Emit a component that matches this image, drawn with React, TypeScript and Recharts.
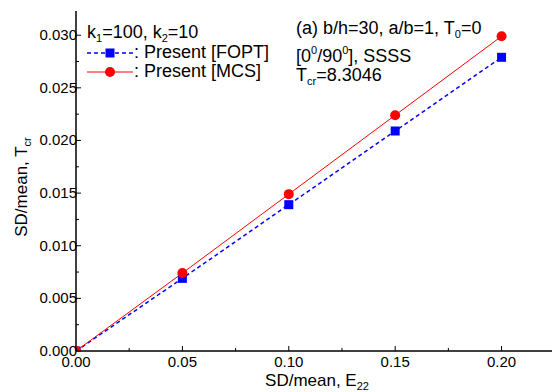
import React from 'react';
import { LineChart, Line, XAxis, YAxis } from 'recharts';

// SD/mean of E22 vs SD/mean of Tcr
const sdE22 = [0, 0.05, 0.1, 0.15, 0.2];
const foptValues = [0, 0.0069, 0.0139, 0.0209, 0.0279];
const mcsValues = [0, 0.0074, 0.0149, 0.0224, 0.0299];

const xTicks = [0, 0.025, 0.05, 0.075, 0.1, 0.125, 0.15, 0.175, 0.2];
const yTicks = [
  0, 0.0025, 0.005, 0.0075, 0.01, 0.0125, 0.015, 0.0175, 0.02, 0.0225, 0.025, 0.0275, 0.03,
];

const data = sdE22.map((x, i) => ({ x, fopt: foptValues[i], mcs: mcsValues[i] }));

const FONT = '"Liberation Sans", Arial, sans-serif';
const W = 552;
const H = 392;

const isMajor = (v: number, step: number) => Math.abs(v / step - Math.round(v / step)) < 1e-6;

const XTick = (props: any) => {
  const { x, y, payload } = props;
  const major = isMajor(payload.value, 0.05);
  return (
    <g>
      <line x1={x} x2={x} y1={y} y2={y - (major ? 5 : 3)} stroke="#000" strokeWidth={1} />
      {major && (
        <text x={x} y={y + 16} textAnchor="middle" fontSize={15} fontFamily={FONT} fill="#000">
          {payload.value.toFixed(2)}
        </text>
      )}
    </g>
  );
};

const YTick = (props: any) => {
  const { x, y, payload } = props;
  const major = isMajor(payload.value, 0.005);
  return (
    <g>
      <line x1={x} x2={x + (major ? 5 : 3)} y1={y} y2={y} stroke="#000" strokeWidth={1} />
      {major && (
        <text x={x + 1} y={y + 5} textAnchor="end" fontSize={15} fontFamily={FONT} fill="#000">
          {payload.value.toFixed(3)}
        </text>
      )}
    </g>
  );
};

const SquareDot = (props: any) => {
  const { cx, cy } = props;
  if (cx == null || cy == null) return null;
  return <rect x={cx - 4.5} y={cy - 4.5} width={9} height={9} fill="#0000ff" />;
};

const Annotations = () => (
  <svg
    width={W}
    height={H}
    style={{ position: 'absolute', left: 0, top: 0, pointerEvents: 'none' }}
    fontFamily={FONT}
    fill="#000"
  >
    {/* top-left legend */}
    <text x={87} y={38} fontSize={18}>
      k<tspan fontSize={11} dy={4}>1</tspan>
      <tspan dy={-4}>=100, k</tspan>
      <tspan fontSize={11} dy={4}>2</tspan>
      <tspan dy={-4}>=10</tspan>
    </text>
    <line x1={87} x2={133} y1={53} y2={53} stroke="#0000ff" strokeWidth={1.5} strokeDasharray="4 3" />
    <rect x={105.5} y={48.5} width={9} height={9} fill="#0000ff" />
    <text x={134} y={58} fontSize={18}>: Present [FOPT]</text>
    <line x1={87} x2={133} y1={72} y2={72} stroke="#ff0000" strokeWidth={1} />
    <circle cx={110} cy={72} r={5} fill="#ff0000" />
    <text x={134} y={77} fontSize={18}>: Present [MCS]</text>

    {/* case description */}
    <text x={296} y={34} fontSize={18}>
      (a) b/h=30, a/b=1, T<tspan fontSize={11} dy={4}>0</tspan>
      <tspan dy={-4}>=0</tspan>
    </text>
    <text x={296} y={62} fontSize={18}>
      [0<tspan fontSize={11} dy={-8}>0</tspan>
      <tspan dy={8}>/90</tspan>
      <tspan fontSize={11} dy={-8}>0</tspan>
      <tspan dy={8}>], SSSS</tspan>
    </text>
    <text x={296} y={81} fontSize={18}>
      T<tspan fontSize={11} dy={4}>cr</tspan>
      <tspan dy={-4}>=8.3046</tspan>
    </text>

    {/* axis titles */}
    <text x={317} y={386} fontSize={17} textAnchor="middle">
      SD/mean, E<tspan fontSize={11} dy={4}>22</tspan>
    </text>
    <text x={0} y={0} fontSize={17} textAnchor="middle" transform="translate(27,187) rotate(-90)">
      SD/mean, T<tspan fontSize={11} dy={4}>cr</tspan>
    </text>
  </svg>
);

export default function App() {
  return (
    <div style={{ position: 'absolute', left: 0, top: 0, width: W, height: H, background: '#fff' }}>
      <LineChart width={W} height={H} data={data} margin={{ top: 11, right: 0, bottom: 0, left: 0 }}>
        <XAxis
          dataKey="x"
          type="number"
          domain={[0, 0.2237]}
          ticks={xTicks}
          interval={0}
          tickSize={0}
          tickMargin={0}
          tickLine={false}
          tick={<XTick />}
          height={41}
          axisLine={{ stroke: '#000', strokeWidth: 1.5 }}
          allowDataOverflow
        />
        <YAxis
          type="number"
          domain={[0, 0.0323]}
          ticks={yTicks}
          interval={0}
          tickSize={0}
          tickMargin={0}
          tickLine={false}
          tick={<YTick />}
          width={76}
          axisLine={{ stroke: '#000', strokeWidth: 1.5 }}
          allowDataOverflow
        />
        <Line
          dataKey="fopt"
          stroke="#0000ff"
          strokeWidth={1.5}
          strokeDasharray="4 3"
          dot={<SquareDot />}
          activeDot={false}
          isAnimationActive={false}
        />
        <Line
          dataKey="mcs"
          stroke="#ff0000"
          strokeWidth={1}
          dot={{ r: 5, fill: '#ff0000', stroke: '#ff0000', strokeWidth: 0 }}
          activeDot={false}
          isAnimationActive={false}
        />
      </LineChart>
      <Annotations />
    </div>
  );
}
